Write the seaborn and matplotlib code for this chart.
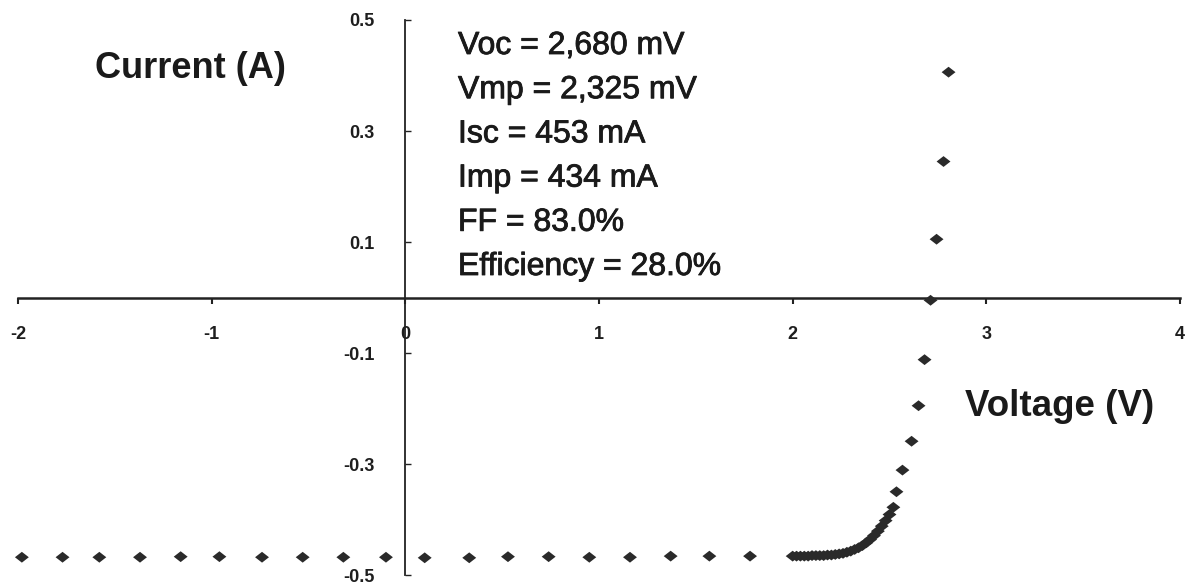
import matplotlib
matplotlib.use("Agg")
import matplotlib.pyplot as plt
import matplotlib.patheffects as pe
import seaborn as sns
import pandas as pd

# ---- data ----
voltage_v = [-1.98, -1.77, -1.58, -1.37, -1.16, -0.96, -0.74, -0.53, -0.32, -0.10,
             0.10, 0.33, 0.53, 0.74, 0.95, 1.16, 1.37, 1.57, 1.78, 2.00,
             2.02, 2.04, 2.06, 2.08, 2.10, 2.12, 2.14, 2.16, 2.18, 2.20,
             2.22, 2.24, 2.26, 2.28, 2.30, 2.32, 2.34, 2.36, 2.38, 2.40,
             2.42, 2.44, 2.46, 2.48, 2.50, 2.52,
             2.536, 2.567, 2.614, 2.650, 2.681, 2.712, 2.743, 2.779, 2.805]
current_a = [-0.468, -0.468, -0.468, -0.468, -0.467, -0.467, -0.468, -0.468, -0.468, -0.468,
             -0.469, -0.469, -0.467, -0.467, -0.468, -0.468, -0.466, -0.466, -0.466, -0.466,
             -0.466, -0.466, -0.466, -0.466, -0.465, -0.465, -0.465, -0.465, -0.464, -0.464,
             -0.463, -0.462, -0.461, -0.459, -0.457, -0.454, -0.451, -0.447, -0.442, -0.436,
             -0.429, -0.421, -0.412, -0.402, -0.391, -0.378,
             -0.350, -0.311, -0.259, -0.195, -0.112, -0.005, 0.105, 0.245, 0.406]

x_ticks = [-2, -1, 0, 1, 2, 3, 4]
x_tick_labels = ["-2", "-1", "0", "1", "2", "3", "4"]
y_ticks = [-0.5, -0.3, -0.1, 0.1, 0.3, 0.5]
y_tick_labels = ["-0.5", "-0.3", "-0.1", "0.1", "0.3", "0.5"]

stats_lines = ["Voc = 2,680 mV", "Vmp = 2,325 mV", "Isc = 453 mA",
               "Imp = 434 mA", "FF = 83.0%", "Efficiency = 28.0%"]
y_label = "Current (A)"
x_label = "Voltage (V)"

df = pd.DataFrame({"V": voltage_v, "I": current_a})

sns.set_theme(style="white")
plt.rcParams["font.family"] = ["Liberation Sans", "DejaVu Sans"]

W, H = 1189, 586
fig = plt.figure(figsize=(W / 100, H / 100), dpi=100)
fig.patch.set_facecolor("white")
left, right, top, bottom = 18, 1180, 20, 575
ax = fig.add_axes([left / W, 1 - bottom / H, (right - left) / W, (bottom - top) / H])
ax.set_facecolor("white")

diamond = [(-1, 0), (0, -0.78), (1, 0), (0, 0.78), (-1, 0)]
sns.scatterplot(data=df, x="V", y="I", marker=diamond, s=100, color="#2a2a2a",
                edgecolor="none", linewidth=0, ax=ax, clip_on=False, zorder=3)

ax.set_xlim(-2, 4)
ax.set_ylim(-0.5, 0.5)
for s in ["top", "right"]:
    ax.spines[s].set_visible(False)
ax.spines["left"].set_position(("data", 0))
ax.spines["bottom"].set_position(("data", 0))
ax.spines["bottom"].set_linewidth(1.8)
ax.spines["left"].set_linewidth(1.3)
ax.spines["bottom"].set_color("#222222")
ax.spines["left"].set_color("#222222")

ax.set_xticks(x_ticks)
ax.set_xticklabels(x_tick_labels, fontweight="bold", fontsize=13, color="#1e1e1e")
ax.set_yticks(y_ticks)
ax.set_yticklabels(y_tick_labels, fontweight="bold", fontsize=13, color="#1e1e1e")
ax.tick_params(axis="x", direction="out", length=4.5, width=1.5, pad=16, colors="#222222",
               labelcolor="#1e1e1e", bottom=True)
ax.tick_params(axis="y", direction="in", length=4, width=1.0, pad=22, colors="#222222",
               labelcolor="#1e1e1e", left=True)
ax.set_xlabel("")
ax.set_ylabel("")
ax.grid(False)

fig.text(95 / W, 1 - 68 / H, y_label, fontsize=26, fontweight="bold",
         ha="left", va="center", color="#1a1a1a")
fig.text(965 / W, 1 - 406 / H, x_label, fontsize=26.5, fontweight="bold",
         ha="left", va="center", color="#1a1a1a")

y0, step = 46, 44.2
for i, line in enumerate(stats_lines):
    fig.text(458 / W, 1 - (y0 + i * step) / H, line, fontsize=23,
             ha="left", va="center", color="#1a1a1a",
             path_effects=[pe.withStroke(linewidth=0.6, foreground="#1a1a1a")])

fig.savefig("out.png", dpi=100, facecolor="white")
